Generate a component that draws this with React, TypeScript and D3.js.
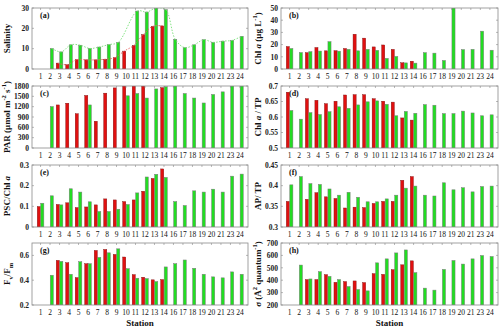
import React from "react";
import * as d3 from "d3";

const stations = ["1", "2", "3", "4", "5", "6", "7", "8", "9", "10", "11", "12", "13", "14", "16", "17", "18", "19", "20", "21", "23", "24"];
const N = null;

const salinityRed = [N, N, 2.9, 2.1, 4.6, 4.5, 4.5, 4.8, 5.6, 8.8, 11.6, 16.9, 21.0, 21.2, N, N, N, N, N, N, N, N];
const salinityGreen = [N, 10.1, 8.4, 11.9, 11.7, 10.1, 10.8, 12.0, 13.1, N, 28.5, 28.0, 30.4, 29.2, 14.6, 10.5, 11.9, 14.4, 13.1, 13.7, 14.1, 16.1];

const chlRed = [18.4, N, 13.4, 17.6, 14.9, 15.0, 16.8, 28.5, 25.3, 18.1, 19.7, 16.1, 5.1, 6.4, N, N, N, N, N, N, N, N];
const chlGreen = [16.8, 13.5, 14.2, 14.7, 22.4, 14.6, 16.1, 14.9, 16.1, 15.3, 8.7, 10.3, 5.0, 4.8, 13.4, 13.0, 7.0, 52, 15.9, 16.1, 31.0, 15.4];

const parRed = [N, N, 1250, 1300, 995, 1525, 777, 1592, 1745, 1850, 1850, 1850, N, 1753, N, N, N, N, N, N, N, N];
const parGreen = [N, 1203, N, N, N, 1250, N, N, N, 1516, 1582, 1450, 1715, 1781, 1850, 1582, 1450, 1307, 1554, 1630, 1850, 1850];

const chlTpRed = [0.68, N, 0.659, 0.654, 0.643, 0.651, 0.671, 0.672, 0.672, 0.659, 0.651, 0.648, 0.597, 0.59, N, N, N, N, N, N, N, N];
const chlTpGreen = [0.621, 0.593, 0.614, 0.608, 0.617, 0.633, 0.628, 0.639, 0.649, 0.652, 0.641, 0.604, 0.618, 0.612, 0.64, 0.638, 0.611, 0.611, 0.619, 0.613, 0.604, 0.607];

const pscRed = [0.099, N, 0.109, 0.117, 0.094, 0.097, 0.107, 0.136, 0.131, 0.123, 0.131, 0.173, 0.235, 0.281, N, N, N, N, N, N, N, N];
const pscGreen = [0.115, 0.151, 0.107, 0.185, 0.169, 0.122, 0.075, 0.075, 0.086, 0.109, 0.165, 0.242, 0.255, 0.24, 0.123, 0.104, 0.175, 0.169, 0.183, 0.169, 0.246, 0.256];

const apRed = [0.362, N, 0.367, 0.383, 0.373, 0.369, 0.346, 0.348, 0.347, 0.357, 0.362, 0.362, 0.413, 0.422, N, N, N, N, N, N, N, N];
const apGreen = [0.402, 0.422, 0.405, 0.403, 0.392, 0.377, 0.384, 0.372, 0.361, 0.361, 0.368, 0.377, 0.394, 0.399, 0.377, 0.375, 0.407, 0.39, 0.395, 0.385, 0.398, 0.399];

const fvRed = [N, N, 0.56, 0.541, 0.421, 0.533, 0.64, 0.648, 0.608, 0.587, 0.445, 0.424, 0.403, 0.405, N, N, N, N, N, N, N, N];
const fvGreen = [N, 0.44, 0.552, 0.448, 0.549, 0.533, 0.584, 0.621, 0.653, 0.493, 0.416, 0.413, 0.389, 0.507, 0.533, 0.563, 0.496, 0.448, 0.427, 0.419, 0.467, 0.448];

const sigmaRed = [N, N, 405, 405, 445, 383, 389, 394, 381, 453, 447, 485, 524, 556, N, N, N, N, N, N, N, N];
const sigmaGreen = [N, 522, 410, 469, 431, 405, 349, 325, 314, 540, 572, 620, 644, 461, 336, 320, 487, 559, 530, 572, 599, 591];

const salinityTicks = [0, 10, 20, 30];
const chlTicks = [0, 10, 20, 30, 40, 50];
const parTicks = [0, 300, 600, 900, 1200, 1500, 1800];
const chlTpTicks = [0.5, 0.55, 0.6, 0.65, 0.7];
const pscTicks = [0, 0.1, 0.2, 0.3];
const apTicks = [0.3, 0.35, 0.4, 0.45];
const fvTicks = [0.2, 0.4, 0.6];
const sigmaTicks = [200, 300, 400, 500, 600, 700];

type Part = { t: string; s?: "sup" | "sub" | "it" };

const RED = "#e01010";
const GREEN = "#22dd22";
const FRAME = "#8a8a8a";
const FONT = "'Liberation Serif', 'Times New Roman', serif";

const cols = [
  { x0: 32, x1: 248, ly: 10 },
  { x0: 281, x1: 498, ly: 261 },
];
const rows = [
  { y0: 8, y1: 69 },
  { y0: 86, y1: 148 },
  { y0: 165, y1: 227 },
  { y0: 243, y1: 305 },
];

const panels = [
  { tag: "(a)", col: 0, row: 0, red: salinityRed, green: salinityGreen, domain: [0, 30], ticks: salinityTicks, lines: true,
    label: [{ t: "Salinity" }] as Part[] },
  { tag: "(b)", col: 1, row: 0, red: chlRed, green: chlGreen, domain: [0, 50], ticks: chlTicks,
    label: [{ t: "Chl " }, { t: "a", s: "it" }, { t: " (μg L" }, { t: "-1", s: "sup" }, { t: ")" }] as Part[] },
  { tag: "(c)", col: 0, row: 1, red: parRed, green: parGreen, domain: [0, 1800], ticks: parTicks,
    label: [{ t: "PAR (μmol m" }, { t: "-2", s: "sup" }, { t: " s" }, { t: "-1", s: "sup" }, { t: ")" }] as Part[] },
  { tag: "(d)", col: 1, row: 1, red: chlTpRed, green: chlTpGreen, domain: [0.5, 0.7], ticks: chlTpTicks,
    label: [{ t: "Chl " }, { t: "a", s: "it" }, { t: " / TP" }] as Part[] },
  { tag: "(e)", col: 0, row: 2, red: pscRed, green: pscGreen, domain: [0, 0.3], ticks: pscTicks,
    label: [{ t: "PSC/Chl " }, { t: "a", s: "it" }] as Part[] },
  { tag: "(f)", col: 1, row: 2, red: apRed, green: apGreen, domain: [0.3, 0.45], ticks: apTicks,
    label: [{ t: "AP/ TP" }] as Part[] },
  { tag: "(g)", col: 0, row: 3, red: fvRed, green: fvGreen, domain: [0.2, 0.7], ticks: fvTicks,
    label: [{ t: "F" }, { t: "v", s: "sub" }, { t: "/F" }, { t: "m", s: "sub" }] as Part[] },
  { tag: "(h)", col: 1, row: 3, red: sigmaRed, green: sigmaGreen, domain: [200, 700], ticks: sigmaTicks,
    label: [{ t: "σ (Å" }, { t: "2", s: "sup" }, { t: " quantum" }, { t: "-1", s: "sup" }, { t: ")" }] as Part[] },
];

function Label({ parts }: { parts: Part[] }) {
  return (
    <>
      {parts.map((p, i) => {
        if (p.s === "it") return <tspan key={i} fontStyle="italic">{p.t}</tspan>;
        if (p.s === "sup") return <tspan key={i} fontSize="6.5" dy={-4}>{p.t}</tspan>;
        if (p.s === "sub") return <tspan key={i} fontSize="6.5" dy={3}>{p.t}</tspan>;
        // put baseline back after sup/sub
        const prev = parts[i - 1];
        const dy = prev && prev.s === "sup" ? 4 : prev && prev.s === "sub" ? -3 : 0;
        return <tspan key={i} dy={dy}>{p.t}</tspan>;
      })}
    </>
  );
}

function Panel({ p }: { p: (typeof panels)[number] }) {
  const c = cols[p.col];
  const r = rows[p.row];
  const x = d3.scaleLinear().domain([0.1, 22.85]).range([c.x0, c.x1]);
  const y = d3.scaleLinear().domain(p.domain).range([r.y1, r.y0]).clamp(true);
  const bw = 3.1;
  const clipId = `clip${p.tag.replace(/[()]/g, "")}`;

  const redPts = p.red.map((v, i) => (v == null ? null : [x(i + 1) - bw / 2 - 0.2, y(v)] as [number, number])).filter(Boolean) as [number, number][];
  const greenPts = p.green.map((v, i) => (v == null ? null : [x(i + 1) + bw / 2 + 0.2, y(v)] as [number, number])).filter(Boolean) as [number, number][];
  const line = d3.line().curve(d3.curveCatmullRom.alpha(0.5));

  return (
    <g fontFamily={FONT}>
      <defs>
        <clipPath id={clipId}>
          <rect x={c.x0} y={r.y0} width={c.x1 - c.x0} height={r.y1 - r.y0} />
        </clipPath>
      </defs>
      <g clipPath={`url(#${clipId})`}>
        {p.red.map((v, i) =>
          v == null ? null : (
            <rect key={"r" + i} x={x(i + 1) - bw - 0.2} y={y(v)} width={bw} height={r.y1 - y(v)} fill={RED} stroke="#7a1010" strokeWidth={0.4} />
          )
        )}
        {p.green.map((v, i) =>
          v == null ? null : (
            <rect key={"g" + i} x={x(i + 1) + 0.2} y={y(v)} width={bw} height={r.y1 - y(v)} fill={GREEN} stroke="#7a7a7a" strokeWidth={0.5} />
          )
        )}
        {p.lines && (
          <>
            <path d={line(greenPts) || ""} fill="none" stroke="#77e077" strokeWidth={0.9} strokeDasharray="1.5,1.5" />
            <path d={line(redPts) || ""} fill="none" stroke="#e86060" strokeWidth={0.9} strokeDasharray="1.5,1.5" />
          </>
        )}
      </g>
      <rect x={c.x0} y={r.y0} width={c.x1 - c.x0} height={r.y1 - r.y0} fill="none" stroke={FRAME} strokeWidth={0.8} />
      {stations.map((s, i) => (
        <g key={s}>
          <line x1={x(i + 1)} x2={x(i + 1)} y1={r.y0} y2={r.y0 + 2} stroke={FRAME} strokeWidth={0.6} />
          <text x={x(i + 1)} y={r.y1 + 9.5} textAnchor="middle" fontSize={7.5} fill="#111">{s}</text>
        </g>
      ))}
      {p.ticks.map((t) => (
        <g key={t}>
          <line x1={c.x0} x2={c.x0 + 2} y1={y(t)} y2={y(t)} stroke={FRAME} strokeWidth={0.6} />
          <line x1={c.x1} x2={c.x1 - 2} y1={y(t)} y2={y(t)} stroke={FRAME} strokeWidth={0.6} />
          <text x={c.x0 - 3} y={y(t) + 2.8} textAnchor="end" fontSize={7.5} fontWeight="bold" fill="#222">{String(t)}</text>
        </g>
      ))}
      <text x={c.x0 + 8} y={r.y0 + 10} fontSize={8} fontWeight="bold" fill="#111">{p.tag}</text>
      <text transform={`translate(${c.ly},${(r.y0 + r.y1) / 2}) rotate(-90)`} textAnchor="middle" fontSize={9} fontWeight="bold" fill="#111">
        <Label parts={p.label} />
      </text>
      {p.row === 3 && (
        <text x={(c.x0 + c.x1) / 2} y={326} textAnchor="middle" fontSize={9} fontWeight="bold" fill="#111">Station</text>
      )}
    </g>
  );
}

export default function App() {
  return (
    <svg width={500} height={329} style={{ position: "absolute", left: 0, top: 0, background: "#fff" }}>
      {panels.map((p) => (
        <Panel key={p.tag} p={p} />
      ))}
    </svg>
  );
}
